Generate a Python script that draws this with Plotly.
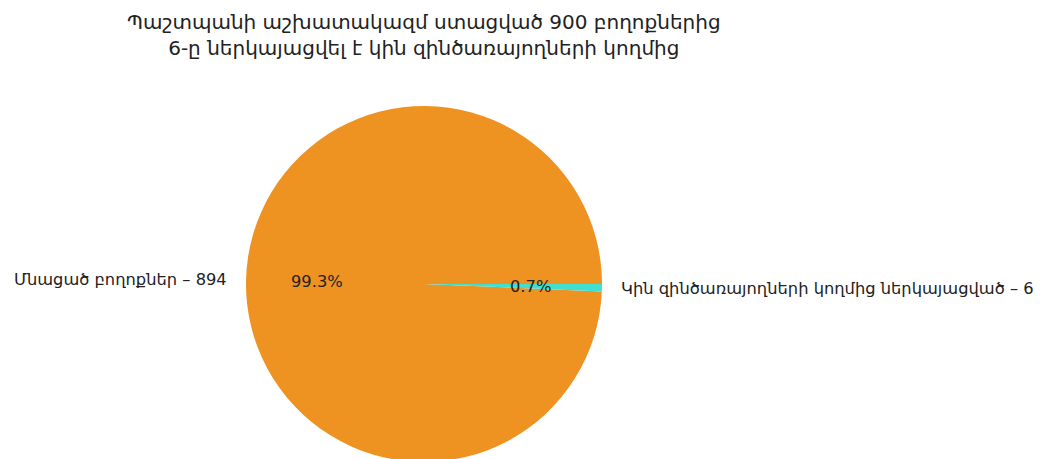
import math
import plotly.graph_objects as go

labels = ["Մնացած բողոքներ – 894", "Կին զինծառայողների կողմից ներկայացված – 6"]
values = [894, 6]
colors = ["#EE9322", "#40E0D0"]
title_lines = ["Պաշտպանի աշխատակազմ ստացված 900 բողոքներից",
               "6-ը ներկայացվել է կին զինծառայողների կողմից"]

W, H = 1046, 459
OFF = 8            # page body margin
cx, cy, r = 424 - OFF, 284 - OFF, 178
total = sum(values)

first_frac = values[0] / total
fig = go.Figure(go.Pie(
    labels=labels, values=values, sort=False,
    direction="clockwise", rotation=90 + 360 * (1 - first_frac),
    marker=dict(colors=colors, line=dict(width=0)),
    textinfo="none", hoverinfo="label+percent", showlegend=False,
    domain=dict(x=[(cx - r) / W, (cx + r) / W],
                y=[max(0.0, 1 - (cy + r) / H), 1 - (cy - r) / H]),
))

font = dict(family="DejaVu Sans", size=16.3, color="#222222")
start = 0.0
anns = []
for lab, v in zip(labels, values):
    frac = v / total
    mid = math.radians(360 * (start + frac / 2))
    start += frac
    c, s = math.cos(mid), math.sin(mid)
    lx, ly = cx + 1.1 * r * c, cy - 1.1 * r * s
    anns.append(dict(x=lx / W, y=1 - ly / H, xref="paper", yref="paper",
                     text=lab, showarrow=False, font=font, borderpad=0,
                     xanchor="right" if c < 0 else "left", yanchor="middle"))
    px, py = cx + 0.6 * r * c, cy - 0.6 * r * s
    anns.append(dict(x=px / W, y=1 - py / H, xref="paper", yref="paper",
                     text=f"{frac * 100:.1f}%", showarrow=False, font=font,
                     xanchor="center", yanchor="middle"))

anns.append(dict(x=cx / W, y=1 - (35 - OFF) / H, xref="paper", yref="paper",
                 text="<br>".join(title_lines), showarrow=False,
                 font=dict(family="DejaVu Sans", size=20, color="#222222"),
                 xanchor="center", yanchor="middle", align="center"))

fig.update_layout(width=W, height=H, margin=dict(l=0, r=0, t=0, b=0),
                  paper_bgcolor="white", plot_bgcolor="white",
                  annotations=anns)
fig.write_html("out.html")
